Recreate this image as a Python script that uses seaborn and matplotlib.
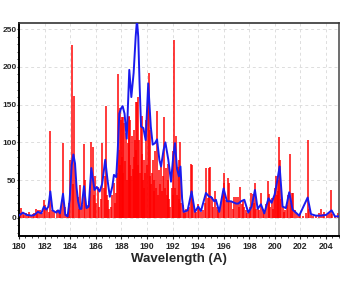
import numpy as np
import pandas as pd
import seaborn as sns
import matplotlib
matplotlib.use("Agg")
import matplotlib.pyplot as plt
from matplotlib.ticker import MultipleLocator

# ---- data ----
# red stick spectrum: wavelength (A) and intensity
red_lam = [180.08, 180.16, 180.29, 180.42, 180.55, 180.68, 180.81, 180.95, 181.08, 181.2,
           181.33, 181.42, 181.51, 181.67, 181.8, 181.93, 182.04, 182.19, 182.32, 182.45,
           182.58, 182.76, 182.97, 183.1, 183.2, 183.29, 183.47, 183.6, 183.72, 183.81,
           183.92, 184.02, 184.14, 184.22, 184.33, 184.46, 184.59, 184.7, 184.8, 184.93,
           185.06, 185.19, 185.32, 185.45, 185.58, 185.66, 185.79, 185.87, 185.94, 186.05,
           186.15, 186.28, 186.38, 186.51, 186.62, 186.7, 186.78, 186.86, 186.93, 187.05,
           187.19, 187.3, 187.4, 187.5, 187.58, 187.66, 187.73, 187.8, 187.87, 187.92,
           187.97, 188.02, 188.06, 188.1, 188.16, 188.23, 188.3, 188.36, 188.42, 188.49,
           188.57, 188.62, 188.66, 188.7, 188.76, 188.83, 188.9, 188.96, 189.02, 189.07,
           189.12, 189.16, 189.2, 189.28, 189.34, 189.4, 189.47, 189.54, 189.61, 189.64,
           189.7, 189.74, 189.8, 189.86, 189.93, 190.0, 190.06, 190.13, 190.2, 190.26,
           190.33, 190.4, 190.45, 190.52, 190.58, 190.63, 190.7, 190.79, 190.85, 190.92,
           191.0, 191.1, 191.18, 191.25, 191.33, 191.4, 191.49, 191.56, 191.62, 191.67,
           191.75, 191.83, 191.92, 192.01, 192.06, 192.11, 192.18, 192.27, 192.34, 192.4,
           192.47, 192.53, 192.61, 192.7, 192.79, 192.88, 192.97, 193.08, 193.18, 193.3,
           193.44, 193.55, 193.62, 193.72, 193.83, 193.96, 194.09, 194.2, 194.35, 194.5,
           194.61, 194.74, 194.84, 194.93, 195.08, 195.2, 195.32, 195.47, 195.57, 195.65,
           195.8, 195.92, 196.0, 196.05, 196.18, 196.31, 196.44, 196.57, 196.7, 196.83,
           196.96, 197.09, 197.2, 197.3, 197.4, 197.48, 197.6, 197.74, 197.85, 197.95,
           198.05, 198.13, 198.26, 198.35, 198.44, 198.55, 198.65, 198.78, 198.91, 199.05,
           199.17, 199.3, 199.43, 199.5, 199.56, 199.65, 199.74, 199.82, 199.9, 200.0,
           200.08, 200.15, 200.21, 200.28, 200.34, 200.42, 200.5, 200.6, 200.7, 200.79,
           200.94, 201.05, 201.15, 201.22, 201.31, 201.44, 201.55, 201.7, 201.85, 201.98,
           202.2, 202.4, 202.56, 202.65, 202.8, 203.0, 203.2, 203.45, 203.6, 203.75,
           203.86, 204.1, 204.25, 204.38, 204.5, 204.7, 204.9]
red_val = [6, 13, 7, 4, 6, 3, 8, 4, 5, 7,
           12, 5, 10, 10, 6, 24, 17, 13, 8, 115,
           10, 8, 11, 10, 6, 15, 99, 15, 5, 6,
           20, 77, 229, 45, 162, 50, 28, 12, 44, 17,
           98, 50, 17, 22, 35, 100, 94, 30, 55, 20,
           41, 15, 25, 99, 40, 55, 148, 30, 24, 12,
           15, 30, 46, 20, 33, 60, 190, 90, 145, 70,
           130, 133, 80, 134, 60, 125, 75, 112, 50, 99,
           135, 134, 70, 130, 55, 108, 65, 116, 80, 103,
           153, 90, 154, 160, 70, 103, 60, 125, 85, 135,
           50, 77, 40, 60, 130, 70, 160, 192, 55, 116,
           45, 60, 77, 35, 50, 88, 40, 141, 30, 64,
           45, 68, 35, 55, 133, 40, 66, 30, 50, 72,
           25, 15, 40, 88, 30, 235, 40, 108, 30, 68,
           25, 77, 101, 20, 17, 8, 6, 12, 10, 15,
           71, 70, 24, 10, 8, 19, 13, 8, 11, 20,
           66, 26, 66, 68, 28, 15, 35, 15, 10, 8,
           20, 35, 59, 46, 24, 53, 46, 22, 12, 28,
           28, 28, 15, 41, 18, 22, 14, 11, 6, 8,
           15, 33, 31, 20, 46, 12, 15, 10, 33, 12,
           8, 18, 49, 22, 31, 15, 26, 12, 28, 40,
           55, 30, 35, 50, 107, 77, 25, 15, 8, 11,
           17, 30, 85, 20, 33, 33, 10, 5, 4, 5,
           3, 6, 103, 12, 4, 3, 4, 6, 12, 5,
           8, 4, 6, 37, 5, 3, 6]

# blue convolved envelope
blue_lam = [180.0, 180.3, 180.6, 181.0, 181.2, 181.48, 181.74, 181.95, 182.13, 182.3,
            182.45, 182.62, 182.92, 183.05, 183.2, 183.44, 183.62, 183.8, 183.96, 184.12,
            184.25, 184.38, 184.5, 184.62, 184.75, 184.88, 185.08, 185.27, 185.45, 185.65,
            185.9, 186.08, 186.3, 186.5, 186.74, 186.92, 187.1, 187.3, 187.42, 187.6,
            187.72, 187.84, 187.98, 188.1, 188.25, 188.42, 188.62, 188.78, 188.96, 189.12,
            189.22, 189.32, 189.42, 189.54, 189.72, 189.9, 190.1, 190.3, 190.45, 190.63,
            190.79, 190.97, 191.1, 191.3, 191.44, 191.67, 191.88, 192.05, 192.19, 192.35,
            192.5, 192.62, 192.75, 192.87, 193.18, 193.49, 193.75, 194.01, 194.22, 194.61,
            194.87, 195.0, 195.26, 195.39, 195.65, 195.99, 196.25, 196.57, 196.96, 197.14,
            197.35, 197.61, 197.92, 198.18, 198.44, 198.65, 198.91, 199.17, 199.5, 199.74,
            199.98, 200.16, 200.37, 200.6, 200.86, 201.12, 201.38, 201.9, 202.56, 202.82,
            203.2, 203.6, 204.0, 204.43, 204.69, 205.0]
blue_val = [3, 7, 4, 3, 4, 8, 6, 15, 11, 15,
            35, 10, 7, 10, 6, 32, 4, 2, 24, 70,
            84, 72, 40, 22, 12, 12, 42, 13, 15, 66,
            37, 41, 35, 45, 77, 50, 28, 42, 57, 54,
            90, 138, 145, 148, 138, 105, 196, 160, 192, 240,
            262, 240, 180, 121, 119, 103, 178, 121, 97, 99,
            104, 77, 68, 90, 100, 77, 48, 80, 99, 65,
            55, 68, 25, 8, 10, 35, 8, 15, 9, 33,
            28, 28, 22, 24, 8, 39, 22, 22, 19, 19,
            22, 24, 7, 15, 37, 12, 18, 6, 26, 20,
            31, 47, 68, 15, 13, 34, 11, 3, 27, 5,
            3, 3, 4, 10, 2, 2]

x_ticks = list(range(180, 205, 2))
y_ticks = [0, 50, 100, 150, 200, 250]

# ---- figure ----
sns.set_style("white")
plt.rcParams["font.family"] = ["Liberation Sans", "DejaVu Sans"]

fig = plt.figure(figsize=(3.49, 2.81), dpi=100)
ax = fig.add_axes([0.0544, 0.160, 0.9166, 0.758])

ax.vlines(red_lam, 0, red_val, color="#ff0000", linewidth=1.2, alpha=0.9, zorder=2)
blue_df = pd.DataFrame({"lam": blue_lam, "val": blue_val})
sns.lineplot(data=blue_df, x="lam", y="val", ax=ax, color="#1a1aee",
             linewidth=1.4, sort=False, zorder=3)

ax.set_xlim(180, 205)
ax.set_ylim(-24, 258)
ax.set_xticks(x_ticks)
ax.set_yticks(y_ticks)
ax.xaxis.set_minor_locator(MultipleLocator(0.5))
ax.yaxis.set_minor_locator(MultipleLocator(10))
ax.set_xticklabels([str(t) for t in x_ticks], fontsize=6.3, fontweight="bold")
ax.set_yticklabels([str(t) for t in y_ticks], fontsize=6.0, fontweight="bold")
ax.tick_params(axis="x", which="major", direction="out", length=2.5, width=0.8, pad=1.5, bottom=True)
ax.tick_params(axis="y", which="major", direction="out", length=1.5, width=0.8, pad=0.3, left=True)
ax.tick_params(axis="both", which="minor", direction="out", length=1.2, width=0.6,
               bottom=True, left=True)
ax.grid(True, which="major", linestyle=(0, (3, 3)), color="#dddddd", linewidth=0.7)
ax.set_axisbelow(True)

ax.set_xlabel("Wavelength (A)", fontsize=9.5, fontweight="bold", labelpad=2)
ax.set_ylabel("")

for side in ["left", "bottom"]:
    ax.spines[side].set_color("black")
    ax.spines[side].set_linewidth(1.4)
ax.spines["top"].set_color("#333333")
ax.spines["top"].set_linewidth(1.2)
ax.spines["right"].set_color("#555555")
ax.spines["right"].set_linewidth(1.2)

fig.savefig("out.png", dpi=100)
